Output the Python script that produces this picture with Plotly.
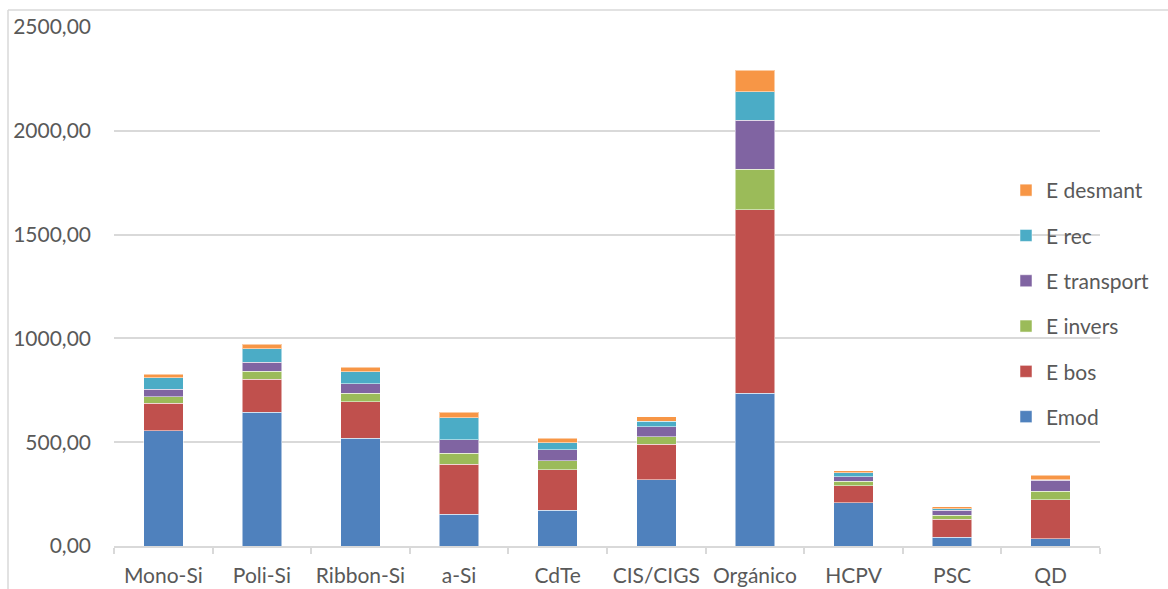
import plotly.graph_objects as go

# Energy contribution per PV technology, stacked by life-cycle stage
categories = ["Mono-Si", "Poli-Si", "Ribbon-Si", "a-Si", "CdTe", "CIS/CIGS",
              "Orgánico", "HCPV", "PSC", "QD"]

emod        = [555, 644, 519, 153, 172, 318, 735, 209, 42, 35]
e_bos       = [133, 160, 176, 242, 196, 172, 884, 82, 87, 189]
e_invers    = [31, 37, 42, 51, 43, 37, 196, 21, 19, 40]
e_transport = [37, 43, 45, 67, 53, 48, 237, 22, 24, 53]
e_rec       = [55, 66, 58, 104, 34, 27, 135, 18, 8, 2]
e_desmant   = [16, 21, 21, 27, 21, 21, 104, 10, 8, 22]

series = [
    ("Emod", emod, "#4F81BD"),
    ("E bos", e_bos, "#C0504D"),
    ("E invers", e_invers, "#9BBB59"),
    ("E transport", e_transport, "#8064A2"),
    ("E rec", e_rec, "#4BACC6"),
    ("E desmant", e_desmant, "#F79646"),
]

FONT = "Lato"
TEXT = "#595959"
GRID = "#D9D9D9"
FS = 21

fig = go.Figure()
for i, (name, vals, color) in enumerate(series):
    fig.add_trace(go.Bar(
        x=categories, y=vals, name=name, legendgroup=name,
        legendrank=len(series) - i,
        marker=dict(color=color, line=dict(color="rgba(255,255,255,0.5)", width=1)),
    ))

W, H = 1168, 589
ml, mr, mt, mb = 114, 68, 27, 43
pw, ph = W - ml - mr, H - mt - mb

fig.update_layout(
    width=W, height=H,
    margin=dict(l=ml, r=mr, t=mt, b=mb, autoexpand=False),
    barmode="stack", bargap=0.6,
    paper_bgcolor="white", plot_bgcolor="white",
    separators=",.",
    font=dict(family=FONT, size=FS, color=TEXT),
    legend=dict(
        traceorder="grouped", tracegroupgap=15,
        x=(1006 - ml) / pw, xanchor="left", y=(H - mb - 170) / ph, yanchor="top",
        bgcolor="rgba(0,0,0,0)", font=dict(size=FS, color=TEXT),
        itemwidth=30,
    ),
    xaxis=dict(
        showline=True, linecolor=GRID, linewidth=1.5, automargin=False,
        ticks="outside", tickson="boundaries", ticklen=6, tickcolor=GRID,
        tickwidth=1.5, showgrid=False, ticklabelstandoff=10, tickangle=0,
        tickfont=dict(size=FS, color=TEXT),
    ),
    yaxis=dict(
        range=[0, 2500], tick0=0, dtick=500, tickformat=".2f", automargin=False,
        showgrid=True, gridcolor=GRID, gridwidth=1.5, zeroline=False,
        showline=False, ticks="", ticklabelstandoff=22,
        tickfont=dict(size=FS, color=TEXT),
    ),
    shapes=[
        # outer chart frame (left and top edges)
        dict(type="line", xref="paper", yref="paper",
             x0=(8 - ml) / pw, x1=(8 - ml) / pw,
             y0=(H - mb - 10) / ph, y1=(-mb - 5) / ph,
             line=dict(color=GRID, width=1.5)),
        dict(type="line", xref="paper", yref="paper",
             x0=(8 - ml) / pw, x1=(W + 10 - ml) / pw,
             y0=(H - mb - 10) / ph, y1=(H - mb - 10) / ph,
             line=dict(color=GRID, width=1.5)),
    ],
)

fig.write_html("out.html")
